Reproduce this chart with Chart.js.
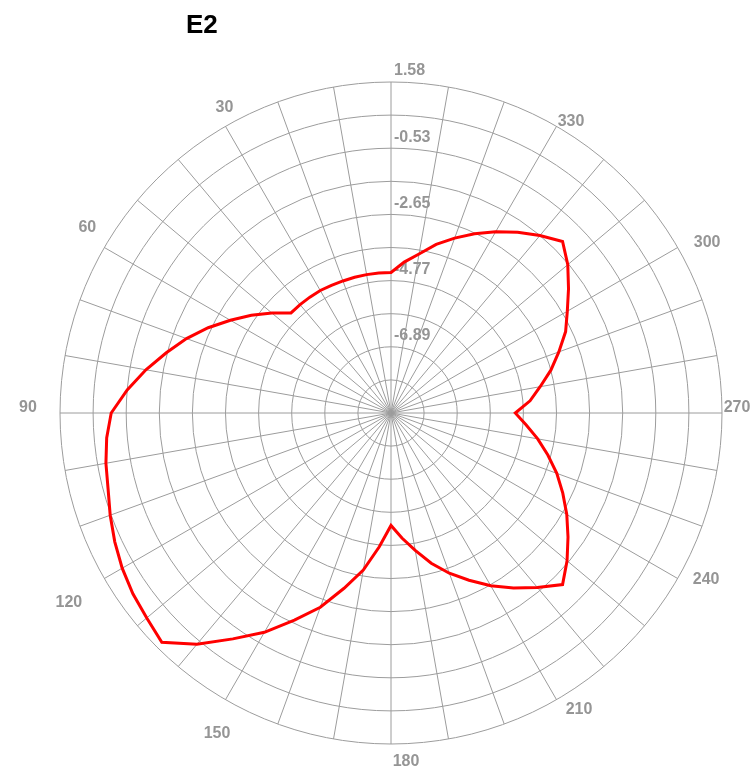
<!DOCTYPE html>
<html><head><meta charset="utf-8">
<script src="https://cdn.jsdelivr.net/npm/chart.js@4.4.1/dist/chart.umd.min.js"></script>
<style>html,body{margin:0;padding:0;background:#fff;} #wrap{position:relative;width:755px;height:777px;}</style>
</head><body><div id="wrap"><canvas id="c"></canvas></div>
<script>
// ---- data ----
const chartTitle = 'E2';
// angle categories (degrees, counter-clockwise from top as in the reference)
const angles = [0,5,10,15,20,25,30,35,40,45,50,55,60,65,70,75,80,85,90,95,100,105,110,115,120,125,130,135,140,145,150,155,160,165,170,175,180,185,190,195,200,205,210,215,220,225,230,235,240,245,250,255,260,265,270,275,280,285,290,295,300,305,310,315,320,325,330,335,340,345,350,355];
// series values (dB) at each angle above
const gainDb = [-4.52,-4.52,-4.52,-4.52,-4.52,-4.51,-4.49,-4.49,-4.49,-4.49,-4.04,-3.56,-3.08,-2.56,-2.05,-1.57,-1.05,-0.54,-0.06,0.12,0.25,0.36,0.55,0.74,0.92,1.07,1.19,1.36,0.65,-0.19,-0.91,-1.70,-2.40,-3.21,-3.91,-4.72,-5.42,-5.00,-4.55,-4.04,-3.56,-3.11,-2.63,-2.18,-1.73,-1.25,-1.66,-2.10,-2.52,-2.95,-3.37,-3.82,-4.25,-4.68,-5.04,-4.55,-4.17,-3.72,-3.30,-2.85,-2.50,-2.08,-1.63,-1.25,-1.60,-1.95,-2.32,-2.69,-3.06,-3.43,-3.85,-4.17];
// radial tick labels, one per ring from centre outward
const radialTickLabels = ['', '', '-6.89', '', '-4.77', '', '-2.65', '', '-0.53', '', '1.58'];
const radialMin = -9.02;
const radialMax = 1.58;
const radialStep = 1.06;
// angle tick labels
const angleTickValues = [30,60,90,120,150,180,210,240,270,300,330];
const angleTickLabels = ['30','60','90','120','150','180','210','240','270','300','330'];

// ---- style ----
const gridColor = '#9c9c9c';
const textColor = '#959595';
const labelFont = 'bold 16px "Liberation Sans", Arial, sans-serif';
// text-centre offsets from the outer-ring point of each angle label
const angleLabelNudge = [[-1,-19],[-17,-19.5],[-32,-5],[-35.5,24],[-8.5,34],[15,18],[22.5,10],[28.5,1.5],[15,-5],[29.5,-4.5],[14.5,-5]];

// Chart.js radar goes clockwise from the top; the reference counts counter-clockwise.
const n = angles.length;
const order = angles.map((a, i) => (n - i) % n);
const radarLabels = order.map(k => String(angles[k]));
const radarData = order.map(k => gainDb[k]);
const indexOfAngle = a => ((360 - a) % 360) / (360 / n);

const textPlugin = {
  id: 'polarText',
  beforeDatasetsDraw(chart) {
    const s = chart.scales.r, ctx = chart.ctx;
    ctx.save();
    ctx.fillStyle = textColor;
    ctx.font = labelFont;
    ctx.textAlign = 'left';
    ctx.textBaseline = 'middle';
    s.ticks.forEach((t, i) => {
      const lab = radialTickLabels[i];
      if (!lab) return;
      const d = s.getDistanceFromCenterForValue(t.value);
      ctx.fillText(lab, s.xCenter + 3, s.yCenter - d - 11);
    });
    ctx.textAlign = 'center';
    angleTickValues.forEach((a, k) => {
      const p = s.getPointPosition(indexOfAngle(a), s.drawingArea);
      const nd = angleLabelNudge[k];
      ctx.fillText(angleTickLabels[k], p.x + nd[0], p.y + nd[1]);
    });
    ctx.restore();
  },
  afterDraw(chart) {
    const ctx = chart.ctx;
    ctx.save();
    ctx.fillStyle = '#000';
    ctx.font = 'bold 26px "Liberation Sans", Arial, sans-serif';
    ctx.textAlign = 'left';
    ctx.textBaseline = 'alphabetic';
    ctx.fillText(chartTitle, 186, 33);
    ctx.restore();
  }
};

new Chart(document.getElementById('c'), {
  type: 'radar',
  data: {
    labels: radarLabels,
    datasets: [{
      label: chartTitle,
      data: radarData,
      borderColor: '#ff0000',
      borderWidth: 3,
      fill: false,
      pointRadius: 0,
      pointHoverRadius: 0,
      tension: 0
    }]
  },
  options: {
    responsive: true,
    maintainAspectRatio: false,
    animation: false,
    layout: { padding: { left: 60, right: 33, top: 82, bottom: 33 } },
    plugins: { legend: { display: false }, title: { display: false }, tooltip: { enabled: false } },
    scales: {
      r: {
        min: radialMin,
        max: radialMax,
        ticks: { stepSize: radialStep, display: false },
        grid: { circular: true, color: gridColor, lineWidth: 1 },
        angleLines: { display: true, lineWidth: 1, color: c => (c.index % 2 === 0 ? gridColor : 'rgba(0,0,0,0)') },
        pointLabels: { display: false }
      }
    }
  },
  plugins: [textPlugin]
});
</script>
<style>#c{width:755px;height:777px;}</style>
</body></html>
